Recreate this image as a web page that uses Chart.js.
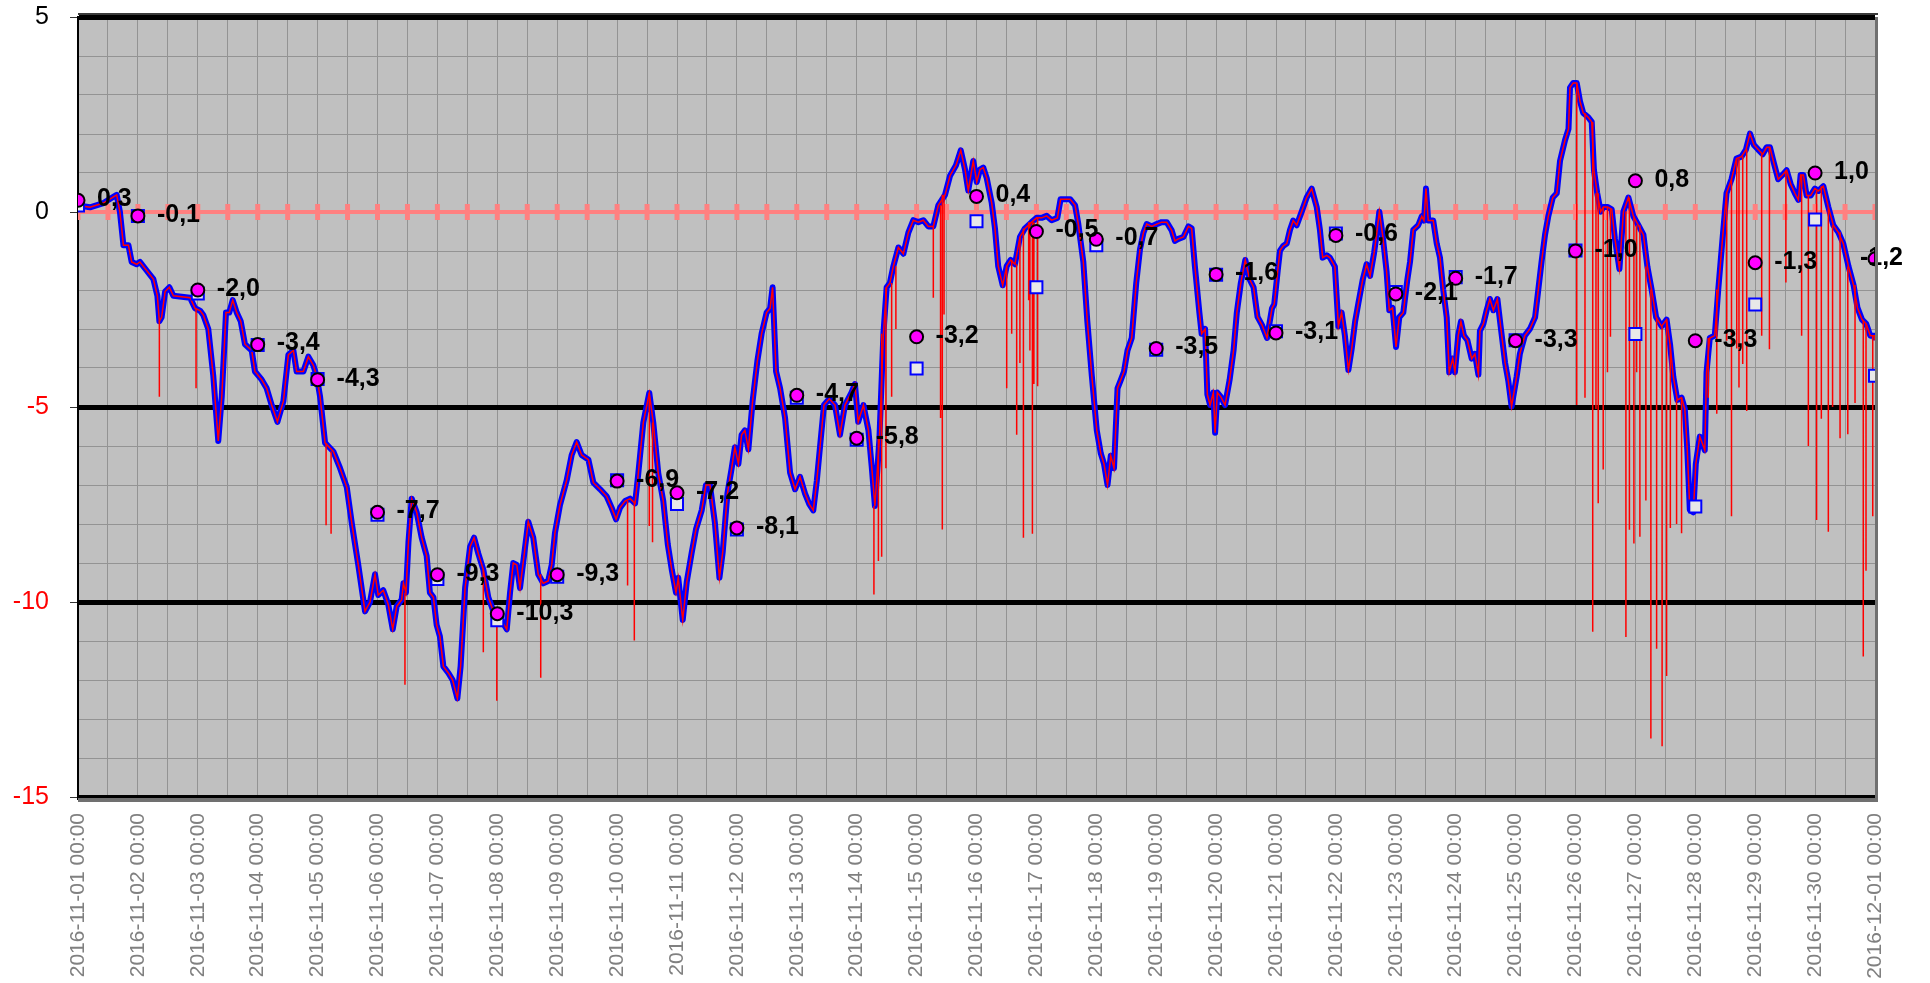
<!DOCTYPE html>
<html lang="en">
<head>
    <meta charset="UTF-8">
    <title>Ecart 2016-11</title>
    <script src="https://cdn.jsdelivr.net/npm/chart.js"></script>
    <style>
        html, body { margin: 0; padding: 0; background: #ffffff; }
    </style>
</head>
<body>
    <canvas id="ecart" width="1930" height="983"></canvas>

    <script>
        // tick labels of the time axis (one per day)
        const dayLabels = [
            '2016-11-01 00:00', '2016-11-02 00:00', '2016-11-03 00:00', '2016-11-04 00:00', '2016-11-05 00:00',
            '2016-11-06 00:00', '2016-11-07 00:00', '2016-11-08 00:00', '2016-11-09 00:00', '2016-11-10 00:00',
            '2016-11-11 00:00', '2016-11-12 00:00', '2016-11-13 00:00', '2016-11-14 00:00', '2016-11-15 00:00',
            '2016-11-16 00:00', '2016-11-17 00:00', '2016-11-18 00:00', '2016-11-19 00:00', '2016-11-20 00:00',
            '2016-11-21 00:00', '2016-11-22 00:00', '2016-11-23 00:00', '2016-11-24 00:00', '2016-11-25 00:00',
            '2016-11-26 00:00', '2016-11-27 00:00', '2016-11-28 00:00', '2016-11-29 00:00', '2016-11-30 00:00',
            '2016-12-01 00:00'
        ];

        // daily values (magenta circles, labelled)
        const dailyValues = [0.3, -0.1, -2.0, -3.4, -4.3, -7.7, -9.3, -10.3, -9.3, -6.9,
            -7.2, -8.1, -4.7, -5.8, -3.2, 0.4, -0.5, -0.7, -3.5, -1.6,
            -3.1, -0.6, -2.1, -1.7, -3.3, -1.0, 0.8, -3.3, -1.3, 1.0, -1.2];

        // daily values of the second marker serie (blue squares)
        const dailySquares = [0.17, -0.1, -2.09, -3.41, -4.28, -7.76, -9.41, -10.47, -9.35, -6.88,
            -7.49, -8.14, -4.76, -5.84, -4.01, -0.24, -1.93, -0.85, -3.53, -1.61,
            -3.06, -0.55, -2.05, -1.67, -3.29, -0.99, -3.13, -7.55, -2.37, -0.19, -4.20];

        // smoothed curve: [hours since 2016-11-01 00:00, value]
        const smoothed = [
            [0, 0.17], [4.8, 0.12], [10.2, 0.23], [14.2, 0.39], [15.5, 0.44], [16.8, 0.0], [18.2, -0.85], [20.2, -0.85],
            [21.5, -1.28], [23.5, -1.34], [24.8, -1.28], [27.5, -1.5], [30.2, -1.72], [31.8, -2.15], [32.6, -2.8], [33.5, -2.7],
            [34.9, -2.04], [36.6, -1.93], [38.2, -2.15], [44.9, -2.2], [46.9, -2.47], [48.9, -2.53], [50.2, -2.64], [52.2, -3.0],
            [54.2, -4.2], [56.2, -5.87], [57.6, -4.74], [59.3, -2.58], [60.6, -2.58], [62.0, -2.26], [63.6, -2.58], [65.2, -2.8],
            [66.9, -3.39], [69.6, -3.55], [70.9, -4.09], [73.6, -4.3], [75.6, -4.52], [77.6, -4.95], [79.9, -5.38], [82.3, -4.85],
            [84.3, -3.66], [86.3, -3.55], [87.6, -4.09], [90.3, -4.09], [92.3, -3.71], [94.3, -3.93], [95.6, -4.2], [97.0, -4.74],
            [99.0, -5.92], [102.3, -6.14], [105.0, -6.57], [107.7, -7.06], [109.7, -7.98], [112.3, -9.05], [115.0, -10.24],
            [117.0, -10.0], [119.0, -9.29], [120.3, -9.82], [122.3, -9.70], [124.3, -10.06], [126.1, -10.70], [127.7, -10.11],
            [129.7, -9.94], [130.4, -9.52], [131.4, -9.76], [132.4, -8.47], [133.7, -7.35], [135.7, -7.70], [137.7, -8.35],
            [139.7, -8.82], [141.0, -9.76], [142.4, -9.88], [143.7, -10.59], [145.0, -10.88], [146.4, -11.65], [148.4, -11.82],
            [150.1, -12.0], [152.0, -12.47], [153.3, -11.65], [155.1, -9.64], [157.1, -8.58], [158.7, -8.35], [160.4, -8.76],
            [162.4, -9.17], [164.4, -9.88], [166.4, -10.23], [169.1, -10.41], [171.8, -10.70], [173.1, -9.76], [174.4, -9.0],
            [175.8, -9.05], [177.1, -9.64], [178.7, -8.82], [180.4, -7.94], [182.4, -8.35], [184.4, -9.29], [186.4, -9.52],
            [188.4, -9.46], [189.8, -9.05], [191.1, -8.23], [193.1, -7.52], [195.8, -6.88], [197.8, -6.23], [199.8, -5.90],
            [201.8, -6.23], [204.5, -6.35], [206.5, -6.94], [209.2, -7.11], [211.8, -7.29], [213.8, -7.58], [215.6, -7.88],
            [217.2, -7.58], [219.2, -7.41], [221.2, -7.35], [223.2, -7.47], [224.5, -6.70], [226.5, -5.40], [228.9, -4.64],
            [230.5, -5.40], [232.5, -6.70], [234.5, -7.41], [236.3, -8.52], [237.9, -9.17], [239.6, -9.76],
            [240.5, -9.38], [242.3, -10.46], [243.9, -9.49], [245.9, -8.73], [247.6, -8.14], [249.9, -7.65], [251.6, -7.0],
            [253.2, -7.0], [255.2, -7.98], [257.0, -9.38], [258.3, -8.73], [260.2, -7.22], [261.9, -6.57], [263.2, -6.03],
            [264.6, -6.46], [265.9, -5.71], [267.2, -5.60], [268.6, -6.09], [270.3, -4.85], [272.2, -3.82], [273.9, -3.12],
            [275.9, -2.58], [277.3, -2.47], [278.3, -1.93], [279.7, -4.09], [281.3, -4.52], [283.3, -5.28], [285.3, -6.68],
            [287.3, -7.11], [289.3, -6.79], [291.3, -7.22], [293.0, -7.49], [294.6, -7.65], [296.0, -6.90], [297.6, -5.82],
            [298.9, -4.95], [301.0, -4.79], [303.3, -4.95], [305.3, -5.71], [307.3, -4.95], [309.9, -4.63], [311.3, -4.41],
            [312.6, -5.38], [314.7, -4.95], [316.7, -5.60], [318.0, -6.52], [319.3, -7.54], [321.1, -5.82], [322.7, -3.12],
            [324.0, -1.93], [325.3, -1.82], [326.7, -1.39], [328.7, -0.91], [330.7, -1.07], [332.7, -0.53], [334.7, -0.21],
            [336.7, -0.26], [338.7, -0.21], [340.7, -0.37], [342.7, -0.37], [344.7, 0.17], [347.4, 0.44], [349.4, 0.93],
            [351.8, 1.2], [353.7, 1.58], [355.4, 1.09], [356.7, 0.55],
            [358.7, 1.31], [360.1, 0.77], [361.4, 1.09], [362.7, 1.14], [364.1, 0.87], [366.1, 0.23], [367.4, -0.42],
            [368.7, -1.39], [370.5, -1.88], [372.1, -1.39], [373.7, -1.23], [375.4, -1.34], [377.4, -0.64], [379.4, -0.42],
            [382.1, -0.26], [384.1, -0.15], [386.1, -0.15], [388.1, -0.10], [390.1, -0.21], [392.4, -0.15], [393.7, 0.33],
            [395.5, 0.33], [397.5, 0.33], [399.5, 0.17], [400.8, -0.31], [402.8, -1.28], [404.4, -2.80], [406.2, -4.20],
            [408.2, -5.60], [409.8, -6.19], [411.1, -6.46], [412.5, -7.0], [413.8, -6.25], [415.1, -6.57], [416.5, -4.52],
            [417.8, -4.31], [419.1, -4.09], [420.5, -3.55], [422.2, -3.23], [424.0, -1.82], [425.5, -0.96], [426.9, -0.53],
            [428.2, -0.31], [430.2, -0.37], [432.2, -0.31], [434.2, -0.26], [436.2, -0.26], [438.2, -0.47], [439.5, -0.74],
            [440.9, -0.69], [442.9, -0.64], [444.9, -0.37], [446.2, -0.42], [447.5, -1.39], [449.3, -2.58], [450.2, -3.12],
            [451.6, -3.0], [452.5, -4.68], [453.6, -4.95], [454.9, -4.63], [455.6, -5.66], [456.5, -4.63], [457.9, -4.74],
            [459.6, -4.95], [461.4, -4.31], [463.0, -3.55], [464.3, -2.58], [465.9, -1.82], [467.7, -1.23], [469.4, -1.72],
            [471.0, -1.93], [472.6, -2.69], [474.4, -2.90], [476.4, -3.23], [478.4, -2.47], [479.3, -2.36], [480.7, -1.50],
            [481.6, -0.99], [482.9, -0.87], [484.3, -0.81], [485.6, -0.46], [486.9, -0.22], [488.3, -0.34], [490.3, 0.01],
            [492.3, 0.37], [494.3, 0.60], [496.3, 0.13], [497.6, -0.46], [498.7, -1.17], [500.3, -1.11], [501.6, -1.17],
            [503.6, -1.40], [505.0, -2.93], [506.3, -2.58], [507.6, -3.17], [509.0, -4.05], [510.3, -3.52], [511.7, -2.81],
            [513.0, -2.34], [514.7, -1.75], [516.3, -1.34], [517.7, -1.64], [519.3, -1.05], [520.3, -0.58], [521.4, 0.01],
            [522.7, -0.58], [524.3, -1.52], [525.4, -2.52], [526.7, -2.46], [528.1, -3.46], [529.4, -2.70], [531.0, -2.58],
            [532.6, -1.75], [533.7, -1.28], [535.0, -0.46], [537.0, -0.34], [538.4, -0.11], [539.3, -0.22], [540.1, 0.60],
            [541.0, -0.22], [543.0, -0.22], [544.4, -0.81], [545.7, -1.17], [547.0, -1.99], [548.4, -2.70], [549.4, -4.11],
            [550.8, -3.76], [551.7, -4.11], [553.0, -3.17], [554.1, -2.81], [555.3, -3.17], [556.7, -3.29], [558.4, -3.76],
            [559.7, -3.64], [561.1, -4.17], [561.7, -3.05], [563.1, -2.87], [564.4, -2.52], [565.7, -2.23], [567.1, -2.52],
            [568.7, -2.23], [570.0, -2.93], [571.8, -3.87], [573.1, -4.34], [574.4, -4.99], [576.4, -4.23], [577.7, -3.64],
            [579.7, -3.17], [581.8, -2.99], [583.8, -2.70], [585.1, -1.99], [586.4, -1.28], [587.8, -0.58], [589.1, -0.11],
            [590.9, 0.37], [592.5, 0.48], [593.8, 1.31], [595.8, 1.84], [597.2, 2.13], [597.8, 3.19], [599.1, 3.31],
            [600.5, 3.31], [601.8, 2.84], [603.1, 2.54], [605.1, 2.43], [606.5, 2.31], [607.4, 1.07], [608.7, 0.48],
            [610.1, 0.01], [611.2, 0.13], [612.8, 0.13], [614.5, 0.07], [615.8, -0.69], [617.6, -1.46], [619.2, 0.01],
            [621.2, 0.37], [623.2, -0.11], [625.2, -0.34], [627.2, -0.58], [628.8, -1.40], [630.5, -1.99], [632.3, -2.70],
            [634.5, -2.93], [636.5, -2.76], [637.9, -3.40], [639.2, -4.23], [640.8, -4.82], [642.5, -4.76], [643.8, -5.05],
            [644.8, -6.11], [645.8, -7.64], [647.2, -7.70], [648.2, -6.46], [649.8, -5.76], [651.2, -6.00], [651.8, -6.11],
            [652.5, -4.11], [653.8, -3.23], [655.8, -3.17], [657.2, -1.99], [658.9, -0.69], [660.5, 0.48], [662.5, 0.84],
            [664.5, 1.37], [666.5, 1.42], [668.3, 1.60], [669.9, 2.01], [671.5, 1.72], [673.2, 1.60], [675.0, 1.48],
            [676.6, 1.66], [677.9, 1.66], [679.5, 1.25], [681.2, 0.84], [682.9, 0.95], [684.6, 1.07], [686.2, 0.72],
            [687.9, 0.48], [689.3, 0.31], [690.2, 0.95], [691.3, 0.95], [692.6, 0.42], [694.2, 0.42], [695.9, 0.60],
            [697.3, 0.54], [699.3, 0.66], [701.3, 0.13], [703.3, -0.34], [705.3, -0.52], [707.3, -0.81], [709.4, -1.40],
            [711.4, -1.87], [713.0, -2.46], [714.8, -2.76], [716.5, -2.87], [718.1, -3.17], [719.7, -3.17], [720.0, -3.29]
        ];

        // downward spikes of the raw (red) curve: [hours, lowest value]
        const drops = [
            [32.6, -4.74], [47.3, -4.52], [99.4, -8.03], [101.4, -8.25],
            [131.0, -12.12], [162.4, -11.29], [167.8, -12.53], [185.4, -11.94], [220.2, -9.58], [222.9, -10.99],
            [228.9, -8.05], [230.2, -8.47],
            [318.9, -9.81], [320.7, -8.95], [322.0, -8.84], [323.7, -6.57], [326.0, -4.74], [327.7, -3.0],
            [342.7, -2.2], [345.6, -5.28], [346.3, -8.14], [347.0, -2.63],
            [372.1, -4.52], [374.1, -3.12], [376.1, -5.71], [377.4, -3.87], [378.8, -8.35], [380.9, -2.26],
            [381.4, -3.55], [382.4, -8.25], [383.0, -4.41], [384.5, -4.47],
            [600.5, -4.95], [603.8, -4.76], [606.9, -10.76], [608.2, -5.05], [609.1, -7.47], [611.1, -6.6],
            [612.8, -4.11], [614.0, -3.2], [620.2, -10.9], [621.6, -8.15], [623.4, -8.5], [624.5, -4.11],
            [625.8, -8.33], [628.2, -7.4], [630.2, -13.5], [632.5, -11.2], [634.7, -13.7], [636.5, -11.9],
            [638.0, -8.1], [640.5, -8.0], [642.5, -8.24], [653.2, -4.76], [656.6, -5.17], [660.6, -3.3],
            [662.5, -7.8], [664.6, -3.5], [665.5, -4.5], [667.0, -3.9], [668.6, -5.1], [674.6, -3.17],
            [677.7, -3.52], [684.3, -1.81], [690.6, -3.17], [693.3, -6.0], [696.6, -7.9], [698.5, -5.3],
            [701.3, -8.2], [703.0, -5.0], [706.0, -5.8], [709.1, -5.7], [712.0, -4.9], [715.3, -11.4],
            [716.4, -9.2], [719.1, -7.8]
        ];

        const FONT = '"Liberation Sans", Arial, sans-serif';
        Chart.defaults.font.family = FONT;

        const curve = smoothed.map(p => ({ x: p[0], y: p[1] }));

        // level of the smoothed curve at the reading nearest to h
        function levelAt(h) {
            let best = smoothed[0];
            for (const p of smoothed) {
                if (Math.abs(p[0] - h) < Math.abs(best[0] - h)) best = p;
            }
            return best[1];
        }
        const dropPoints = [];
        drops.forEach(([h, v]) => {
            dropPoints.push({ x: h, y: levelAt(h) }, { x: h, y: v }, { x: h, y: null });
        });

        const zeroPoints = [];
        for (let h = 0; h <= 720; h += 12) zeroPoints.push({ x: h, y: 0 });

        const circles = dailyValues.map((v, i) => ({ x: i * 24, y: v }));
        const squares = dailySquares.map((v, i) => ({ x: i * 24, y: v }));

        // fond gris + cadre
        const frame = {
            id: 'frame',
            beforeDraw(chart) {
                const { ctx, chartArea: a } = chart;
                ctx.save();
                ctx.fillStyle = '#c0c0c0';
                ctx.fillRect(a.left, a.top, a.right - a.left, a.bottom - a.top);
                ctx.restore();
            },
            afterDraw(chart) {
                const { ctx, chartArea: a } = chart;
                ctx.save();
                ctx.fillStyle = '#707070';
                ctx.fillRect(a.right, a.top, 3, a.bottom - a.top + 4);
                ctx.fillRect(a.left, a.bottom + 1, a.right - a.left + 3, 4);
                ctx.fillStyle = '#3a3a3a';
                ctx.fillRect(a.left, a.top - 4, a.right - a.left + 3, 2);
                ctx.restore();
            }
        };

        // etiquettes des valeurs journalieres
        const valueLabels = {
            id: 'valueLabels',
            afterDatasetsDraw(chart) {
                const ctx = chart.ctx;
                const meta = chart.getDatasetMeta(0);
                ctx.save();
                ctx.font = 'bold 25px ' + FONT;
                ctx.fillStyle = '#000000';
                ctx.textBaseline = 'middle';
                ctx.textAlign = 'left';
                meta.data.forEach((pt, i) => {
                    const txt = dailyValues[i].toFixed(1).replace('.', ',');
                    const w = ctx.measureText(txt).width;
                    let tx = pt.x + 19;
                    if (tx + w > chart.width - 27) tx = chart.width - 27 - w;
                    ctx.fillText(txt, tx, pt.y - 1);
                });
                ctx.restore();
            }
        };

        new Chart(document.getElementById('ecart'), {
            type: 'line',
            data: {
                datasets: [
                    {
                        data: circles, showLine: false, order: 0,
                        pointStyle: 'circle', pointRadius: 6.5,
                        pointBackgroundColor: '#ff00ff', pointBorderColor: '#000000', pointBorderWidth: 2
                    },
                    {
                        data: squares, showLine: false, order: 1,
                        pointStyle: 'rect', pointRadius: 8.5,
                        pointBackgroundColor: '#e8e8e8', pointBorderColor: '#0000ff', pointBorderWidth: 2
                    },
                    {
                        data: curve, order: 2, borderColor: '#ff0000', borderWidth: 1.5,
                        pointRadius: 0, tension: 0
                    },
                    {
                        data: dropPoints, order: 3, borderColor: '#ff0000', borderWidth: 1.5,
                        pointRadius: 0, spanGaps: false
                    },
                    {
                        data: curve, order: 4, borderColor: '#0000ff', borderWidth: 6,
                        pointRadius: 0, tension: 0, borderJoinStyle: 'round'
                    },
                    {
                        data: zeroPoints, order: 5, borderColor: '#ff8080', borderWidth: 4,
                        pointStyle: 'line', rotation: 90, pointRadius: 8,
                        pointBorderColor: '#ff8080', pointBorderWidth: 5
                    }
                ]
            },
            options: {
                responsive: false,
                animation: false,
                events: [],
                layout: { padding: { top: 0, right: 55, left: 0, bottom: 0 } },
                plugins: { legend: { display: false }, tooltip: { enabled: false } },
                scales: {
                    x: {
                        type: 'linear', min: 0, max: 720,
                        afterFit: s => { s.height = 186; },
                        ticks: {
                            stepSize: 12, autoSkip: false, maxRotation: 90, minRotation: 90,
                            padding: 16, color: '#808080', font: { size: 21 },
                            callback: v => (v % 24 === 0 ? dayLabels[v / 24] : '')
                        },
                        grid: { color: '#939393', lineWidth: 1, drawTicks: false },
                        border: { display: false }
                    },
                    y: {
                        min: -15, max: 5,
                        afterFit: s => { s.width = 78; s.paddingTop = 17; s.paddingBottom = 0; },
                        ticks: {
                            stepSize: 1, autoSkip: false, padding: 21, font: { size: 25 },
                            color: c => (c.tick.value < 0 ? '#ff0000' : '#000000'),
                            callback: v => (v % 5 === 0 ? String(v) : '')
                        },
                        grid: {
                            color: c => (c.tick.value % 5 === 0 && c.tick.value !== 0 ? '#000000' : '#939393'),
                            lineWidth: c => (c.tick.value % 5 === 0 && c.tick.value !== 0 ? 5 : 1),
                            tickLength: 8,
                            tickColor: c => (c.tick.value % 5 === 0 ? '#333333' : 'rgba(0,0,0,0)'),
                            tickWidth: 1
                        },
                        border: { display: true, color: '#000000', width: 2 }
                    }
                }
            },
            plugins: [frame, valueLabels]
        });
    </script>
</body>
</html>
